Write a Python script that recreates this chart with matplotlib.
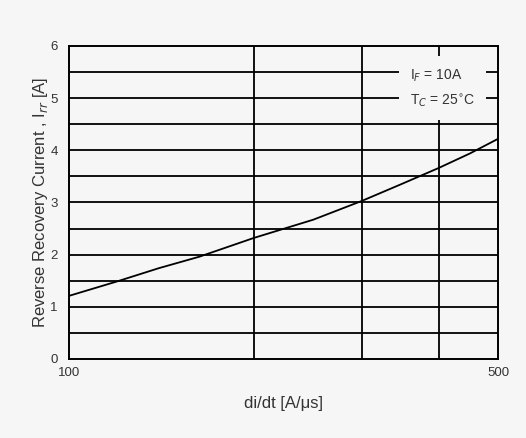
import matplotlib
matplotlib.use("Agg")
import matplotlib.pyplot as plt
from matplotlib.ticker import FixedLocator, NullLocator, FixedFormatter

# di/dt sweep and the reverse recovery current at IF = 10A, TC = 25C
di_dt = [100, 120, 140, 163, 200, 250, 300, 346, 400, 450, 500]
irr = [1.21, 1.49, 1.74, 1.96, 2.32, 2.67, 3.03, 3.34, 3.66, 3.94, 4.22]

x_ticks = [100, 500]
x_tick_labels = ["100", "500"]
x_grid = [200, 300, 400]
y_ticks = [0, 1, 2, 3, 4, 5, 6]

plt.rcParams['font.family'] = ['Liberation Sans', 'DejaVu Sans']

bg = "#f6f6f6"
fig = plt.figure(figsize=(5.26, 4.38), dpi=100, facecolor=bg)
ax = fig.add_axes([0.1312, 0.1804, 0.8156, 0.7146])
ax.set_facecolor(bg)

ax.set_xscale("log")
ax.set_xlim(100, 500)
ax.set_ylim(0, 6)

# grid: verticals at 200/300/400, horizontals every 0.5 A
for xv in x_grid:
    ax.axvline(xv, color="black", lw=1.3, zorder=1)
for k in range(1, 12):
    ax.axhline(k * 0.5, color="black", lw=1.3, zorder=1)

ax.plot(di_dt, irr, color="black", lw=1.3, zorder=3)

ax.xaxis.set_major_locator(FixedLocator(x_ticks))
ax.xaxis.set_major_formatter(FixedFormatter(x_tick_labels))
ax.xaxis.set_minor_locator(NullLocator())
ax.set_yticks(y_ticks)
ax.tick_params(axis="both", length=0, labelsize=9.5, colors="#333333")
ax.tick_params(axis="x", pad=6)
ax.tick_params(axis="y", pad=8)

for s in ax.spines.values():
    s.set_linewidth(1.4)
    s.set_color("black")

ax.text(0.795, 0.932, "I$_F$ = 10A\nT$_C$ = 25$^{\\circ}$C", transform=ax.transAxes,
        ha="left", va="top", fontsize=10, color="#333333", linespacing=1.65,
        bbox=dict(facecolor=bg, edgecolor="none", pad=8), zorder=4)

ax.set_xlabel("di/dt [A/\u03bcs]", fontsize=12, color="#333333", labelpad=12)
ax.set_ylabel("Reverse Recovery Current , I$_{rr}$ [A]", fontsize=12,
              color="#333333", labelpad=0)

fig.savefig("out.png", dpi=100, facecolor=bg)
